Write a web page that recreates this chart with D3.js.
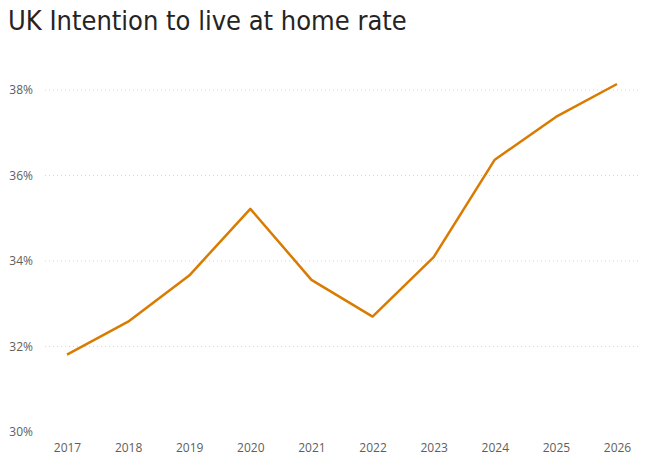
<!DOCTYPE html>
<html><head><meta charset="utf-8">
<script src="https://cdn.jsdelivr.net/npm/d3@7"></script>
<style>body{margin:0;background:#fff}</style>
</head><body>
<svg id="chart" width="652" height="472"></svg>
<script>
// Chart data
const years = ["2017","2018","2019","2020","2021","2022","2023","2024","2025","2026"];
const rates = [31.81, 32.58, 33.66, 35.22, 33.56, 32.70, 34.09, 36.37, 37.37, 38.14];
const yTicks = [30, 32, 34, 36, 38];

const svg = d3.select("#chart");

svg.append("text")
   .attr("x", 8).attr("y", 30)
   .attr("font-family", "DejaVu Sans Condensed, DejaVu Sans")
   .attr("font-size", 27)
   .attr("fill", "#252423")
   .text("UK Intention to live at home rate");

// Scales
const x = d3.scalePoint().domain(years).range([67, 617]);
const y = d3.scaleLinear().domain([30, 38]).range([432, 90]);

// Gridlines
svg.append("g").selectAll("line").data(yTicks.slice(1)).join("line")
   .attr("x1", 45).attr("x2", 640)
   .attr("y1", d => y(d)).attr("y2", d => y(d))
   .attr("stroke", "#d6d6d6").attr("stroke-dasharray", "1,3");

// Y axis
const yAxis = svg.append("g").attr("transform", "translate(36,0)")
   .call(d3.axisLeft(y).tickValues(yTicks).tickFormat(d => d + "%").tickSize(0));
yAxis.select(".domain").remove();

// X axis
const xAxis = svg.append("g").attr("transform", "translate(0,436)")
   .call(d3.axisBottom(x).tickSize(0).tickPadding(7));
xAxis.select(".domain").remove();

svg.selectAll(".tick text")
   .attr("font-family", "Segoe UI, Open Sans, sans-serif")
   .attr("font-size", 12)
   .attr("fill", "#605e5c");

// Line
const line = d3.line().x((d, i) => x(years[i])).y(d => y(d));
svg.append("path").datum(rates)
   .attr("d", line)
   .attr("fill", "none")
   .attr("stroke", "#d97b00")
   .attr("stroke-width", 2.5)
   .attr("stroke-linejoin", "round");
</script>
</body></html>
